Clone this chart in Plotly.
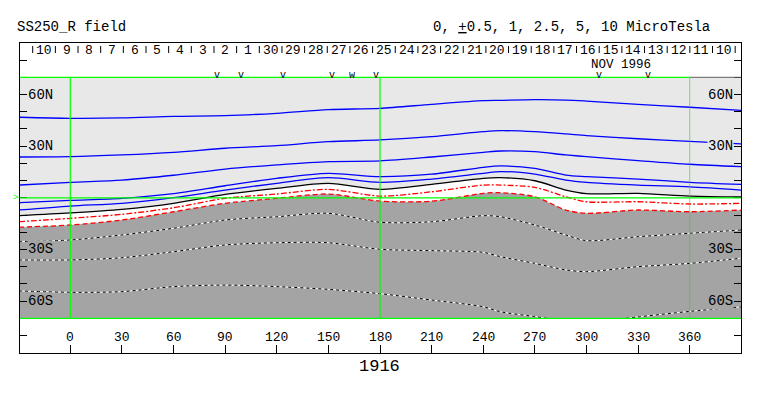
import plotly.graph_objects as go

# ---------------- data ----------------
LON = [-30, 0, 30, 60, 90, 120, 150, 180, 210, 240, 250, 270, 288, 300, 330, 360, 390]
BLUE_1 = [46.8, 46.2, 46.4, 47.3, 47.7, 49.1, 51.2, 52.0, 54.3, 56.4, 56.6, 57.0, 56.8, 56.2, 54.3, 52.6, 50.8]
BLUE_2 = [23.7, 23.9, 24.9, 26.4, 28.8, 30.3, 32.6, 33.6, 35.5, 38.4, 39.0, 38.4, 37.1, 36.1, 34.3, 32.8, 31.3]
BLUE_3 = [7.4, 9.0, 10.3, 13.1, 16.7, 19.1, 21.0, 21.4, 23.7, 26.4, 27.2, 26.8, 24.9, 23.9, 21.6, 19.5, 18.1]
BLUE_4 = [-2.8, -1.5, -0.3, 2.4, 7.0, 11.3, 14.2, 12.3, 13.7, 17.7, 18.5, 17.1, 13.2, 12.3, 10.9, 9.0, 7.8]
BLUE_5 = [-7.1, -4.8, -3.2, 0.1, 4.5, 8.4, 11.7, 9.0, 10.9, 14.2, 15.2, 13.8, 10.3, 9.0, 7.4, 6.3, 4.5]
BLACK = [-10.4, -8.8, -6.7, -3.2, 2.0, 5.5, 8.4, 4.9, 7.8, 11.3, 11.7, 9.9, 4.5, 2.4, 2.6, 1.0, 0.5]
RED_DASHDOT = [-13.9, -11.9, -9.6, -5.8, -0.3, 2.2, 4.9, 1.0, 3.5, 7.4, 7.4, 6.1, 0.6, -2.3, -2.3, -3.6, -3.2]
RED_DASH = [-17.1, -15.8, -12.9, -8.1, -3.2, -0.3, 2.2, -1.9, -2.0, 2.6, 3.0, 0.6, -7.1, -9.0, -7.1, -8.1, -7.1]
DOT_1 = [-25.5, -24.5, -21.6, -17.7, -12.9, -11.0, -9.0, -14.2, -13.9, -10.4, -11.0, -15.8, -21.6, -24.9, -22.6, -20.6, -18.7]
DOT_2 = [-36.1, -36.1, -34.8, -31.3, -27.4, -26.1, -26.1, -29.9, -30.7, -31.7, -34.2, -38.1, -41.9, -42.9, -40.0, -38.1, -35.1]
DOT_3_LON = [-30, 0, 30, 60, 90, 120, 150, 180, 210, 240, 250, 270, 277, None, 323, 330, 360, 390]
DOT_3 = [-54.1, -54.9, -54.5, -51.6, -50.7, -51.6, -53.2, -55.7, -59.4, -63.3, -66.2, -69.0, -70.0, None, -70.0, -69.2, -66.0, -63.4]

LON_TICKS = [0, 30, 60, 90, 120, 150, 180, 210, 240, 270, 300, 330, 360]
LAT_LABELS = [60, 30, -30, -60]
LAT_TEXT = ["60N", "30N", "30S", "60S"]
DAY_LABELS = ["10", "9", "8", "7", "6", "5", "4", "3", "2", "1", "30", "29", "28", "27", "26",
              "25", "24", "23", "22", "21", "20", "19", "18", "17", "16", "15", "14", "13", "12", "11", "10"]
FIRST_DAY_LON = -21.85      # Carrington longitude of first day boundary
DAY_STEP = 13.17            # degrees per day
OBS_LON = [85.4, 99.4, 123.8, 152.3, 163.9, 177.5, 307.3, 335.6]
OBS_MARK = ["v", "v", "v", "v", "w", "v", "v", "v"]

LIGHT = "#e8e8e8"
DARK = "#a4a4a4"
GREEN = "#00ff00"
FONT = "Liberation Mono"

fig = go.Figure()

# --------- fills ---------
fig.add_trace(go.Scatter(x=[LON[0], LON[-1]], y=[70, 70], mode="lines",
                         line=dict(width=0), hoverinfo="skip", showlegend=False))
fig.add_trace(go.Scatter(x=LON, y=BLACK, mode="lines", fill="tonexty", fillcolor=LIGHT,
                         line=dict(width=0, shape="spline", smoothing=0.8),
                         hoverinfo="skip", showlegend=False))
fig.add_trace(go.Scatter(x=LON, y=RED_DASH, mode="lines",
                         line=dict(width=0, shape="spline", smoothing=0.8),
                         hoverinfo="skip", showlegend=False))
fig.add_trace(go.Scatter(x=[LON[0], LON[-1]], y=[-70, -70], mode="lines", fill="tonexty",
                         fillcolor=DARK, line=dict(width=0),
                         hoverinfo="skip", showlegend=False))


def add_line(x, y, color, dash="solid", width=1.3):
    fig.add_trace(go.Scatter(x=x, y=y, mode="lines", connectgaps=False,
                             line=dict(color=color, width=width, dash=dash,
                                       shape="spline", smoothing=0.8),
                             hoverinfo="skip", showlegend=False))


for ser in (BLUE_1, BLUE_2, BLUE_3, BLUE_4, BLUE_5):
    add_line(LON, ser, "#0000ff")
add_line(LON, BLACK, "#000000")
add_line(LON, RED_DASHDOT, "#ff0000", dash="6px,2px,2px,2px")
add_line(LON, RED_DASH, "#ff0000", dash="5px,3px")
for xs, ser in ((LON, DOT_1), (LON, DOT_2), (DOT_3_LON, DOT_3)):
    add_line(xs, ser, "#ffffff", width=1)
    add_line(xs, ser, "#000000", dash="3px,3px", width=1)

# --------- green reference lines ---------
shapes = []
def seg(x0, y0, x1, y1, color, width=1.2):
    shapes.append(dict(type="line", xref="x", yref="y", x0=x0, y0=y0, x1=x1, y1=y1,
                       line=dict(color=color, width=width), layer="above"))

seg(-30, 0, 390, 0, GREEN)
seg(-30, 70, 360, 70, GREEN)
seg(360, 70, 390, 70, "#606060", 1)
seg(-30, -70, 390, -70, GREEN)
seg(0, -70, 0, 70, GREEN)
seg(180, -70, 180, 70, GREEN)
seg(360, -70, 360, 70, "rgba(60,200,60,0.6)", 1)

# day boundary ticks along the top
for k in range(len(DAY_LABELS) + 1):
    lon = FIRST_DAY_LON + k * DAY_STEP
    seg(lon, 88.2, lon, 84.1, "#000000", 1)

ann = []
def text(x, y, s, size=13, xanchor="center", yanchor="middle", color="#000000", bg=None,
         ref="data", height=None):
    d = dict(x=x, y=y, text=s, showarrow=False,
             xanchor=xanchor, yanchor=yanchor, borderpad=0,
             font=dict(family=FONT, size=size, color=color))
    if ref == "paper":
        d.update(xref="paper", yref="paper")
    else:
        d.update(xref="x", yref="y")
    if bg:
        d["bgcolor"] = bg
    if height:
        d["height"] = height
    ann.append(d)

for k, lab in enumerate(DAY_LABELS):
    text(FIRST_DAY_LON + (k + 0.5) * DAY_STEP, 86.15, lab, 13, height=12)

for lon, m in zip(OBS_LON, OBS_MARK):
    text(lon, 71.05, m, 10, height=9)

for lat, lab in zip(LAT_LABELS, LAT_TEXT):
    bg = LIGHT if lat > 0 else DARK
    text(-25.3, lat, lab, 14, xanchor="left", bg=bg)
    text(385.6, lat, lab, 14, xanchor="right", bg=bg)

for lon in LON_TICKS:
    text(lon, -81.3, str(lon), 13)

text(320, 77.73, "NOV 1996", 12.5, height=11)

# texts outside the plotting area (paper coordinates)
text(-0.006, 1.05, "SS250_R field", 14, xanchor="left", ref="paper")
text(0.9584, 1.05, "0, <span style='text-decoration:underline'>+</span>0.5, 1, 2.5, 5, 10 MicroTesla",
     14, xanchor="right", ref="paper")
text(0.4986, -0.044, "1916", 17, ref="paper")
text(-0.0065, 0.5, ">", 9, color=GREEN, ref="paper")

fig.update_layout(
    width=763, height=396,
    margin=dict(l=20, r=22, t=43, b=43, pad=0),
    paper_bgcolor="white", plot_bgcolor="white",
    shapes=shapes, annotations=ann,
    xaxis=dict(range=[-29.23, 389.81], showgrid=False, zeroline=False,
               showline=True, mirror=True, linecolor="black", linewidth=1,
               ticks="inside", tickvals=LON_TICKS, ticklen=8, tickcolor="black",
               showticklabels=False, fixedrange=True),
    yaxis=dict(range=[-90.16, 89.93], showgrid=False, zeroline=False,
               showline=True, mirror="ticks", linecolor="black", linewidth=1,
               ticks="inside", tickvals=list(range(-80, 90, 10)), ticklen=7,
               tickcolor="black", showticklabels=False, fixedrange=True),
)

fig.write_html("out.html", config={"displayModeBar": False},
               post_script="document.body.style.margin='0';")
